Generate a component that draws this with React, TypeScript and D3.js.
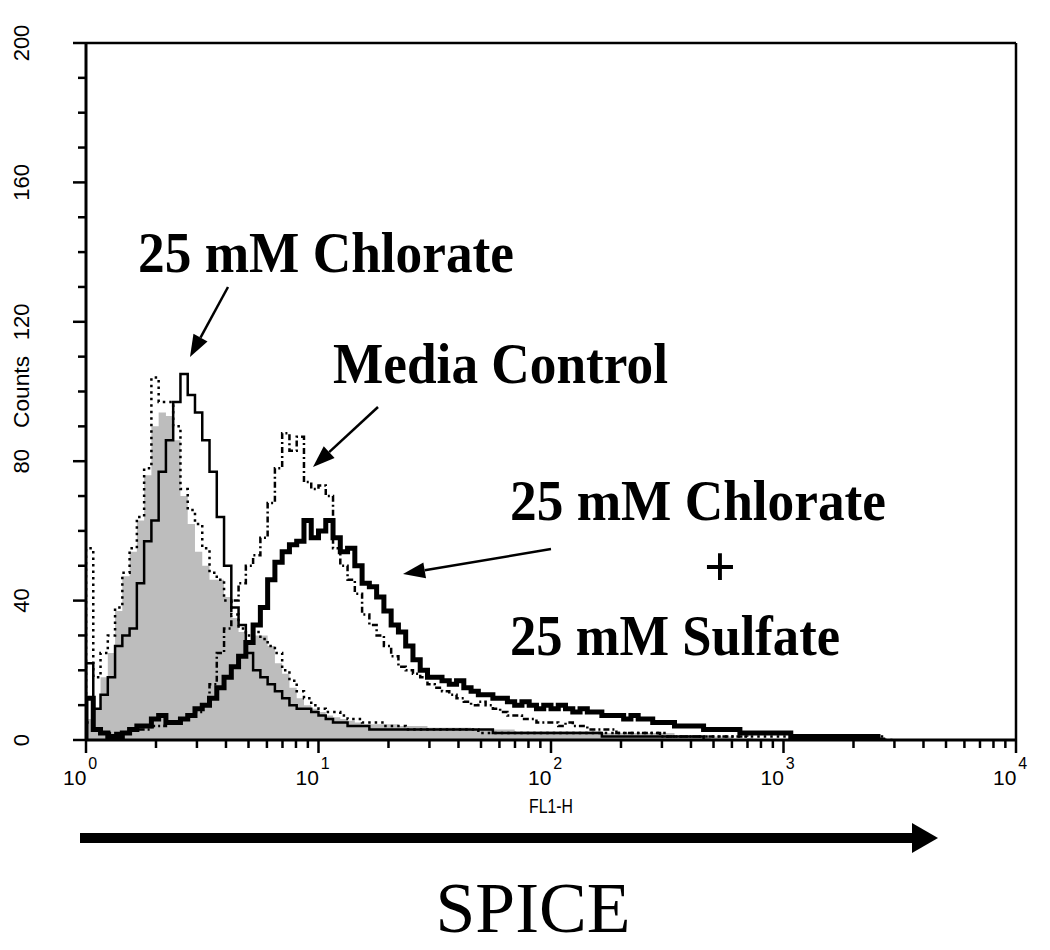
import React from "react";
import * as d3 from "d3";

// ---------- data (counts per histogram bin, 32 bins per decade, starting at 10^0) ----------
const BINS_PER_DECADE = 32;

const grayCounts = [6, 9, 18, 25, 37, 47, 54, 63, 76, 90, 94, 93, 86, 70, 62, 54, 50, 46, 46, 41, 35, 31, 28, 30, 30, 27, 22, 19, 15, 12, 10, 9, 8, 7, 6.5, 6, 5.5, 5, 4.5, 4.5, 4.5, 4.5, 4.5, 4, 4, 4, 4, 3.5, 3.5, 3.5, 3.5, 3.5, 3.5, 3, 3, 3, 3, 3, 3, 2.5, 2.5, 2.5, 2.5, 2.5, 2.5, 2.5, 2.5, 2.5, 2.5, 2.5, 2.5, 2, 2, 2, 2, 2, 2, 2, 2, 2, 2, 1, 1, 1, 1, 1, 1, 1, 1, 0];

const dottedCounts = [55, 18, 25, 30, 38, 48, 55, 64, 78, 104, 97, 97, 90, 72, 66, 62, 55, 48, 46, 40, 36, 32, 30, 31, 29, 27, 25, 20, 17, 14, 12, 10, 9, 8, 8, 7, 6, 6, 5, 5, 5, 4, 4, 4, 3, 3, 3, 3, 3, 3, 3, 3, 3, 3, 2, 2, 2, 2, 2, 2, 2, 2, 2, 2, 2, 2, 2, 2, 2, 2, 2, 2, 2, 2, 2, 2, 2, 2, 2, 2, 1, 1, 1, 1, 1, 1, 1, 1, 1, 1, 1, 1, 1, 1, 1, 1, 1, 1, 1, 1, 1, 1, 1, 1, 1, 1, 1, 1, 1, 1, 0];

const chlorateCounts = [22, 9, 13, 18, 27, 30, 32, 45, 57, 63, 77, 86, 97, 105, 99, 94, 86, 77, 64, 50, 38, 33, 25, 20, 18, 16, 14, 12, 10, 9, 9, 8, 7, 6, 5, 5, 4, 4, 4, 3, 3, 3, 3, 3, 3, 3, 3, 3, 3, 3, 3, 3, 3, 3, 3, 3, 2, 2, 2, 2, 2, 2, 2, 2, 2, 2, 2, 2, 2, 2, 2, 1, 1, 1, 1, 1, 1, 1, 1, 1, 1, 1, 1, 1, 1, 0];

const mediaCounts = [5, 3, 2, 2, 2, 2, 3, 3, 3, 4, 4, 5, 5, 6, 7, 8, 10, 16, 25, 32, 40, 45, 50, 53, 58, 68, 78, 88, 83, 87, 74, 72, 73, 70, 55, 50, 46, 42, 36, 33, 30, 27, 24, 21, 20, 19, 18, 16, 15, 14, 13, 12, 11, 10, 11, 10, 9, 8, 7, 7, 6, 6, 5, 5, 5, 4, 5, 4, 4, 3, 3, 3, 3, 2, 2, 2, 2, 2, 2, 1, 1, 1, 1, 1, 1, 1, 1, 1, 1, 1, 1, 0];

const sulfateCounts = [12, 3, 2, 1, 1, 2, 3, 4, 4, 6, 7, 5, 5, 6, 7, 9, 10, 12, 15, 18, 21, 24, 28, 33, 38, 46, 51, 54, 56, 57, 63, 58, 60, 63, 58, 54, 55, 50, 45, 44, 41, 37, 33, 31, 27, 23, 20, 18, 18, 17, 16, 17, 15, 14, 13, 13, 12, 12, 11, 10, 11, 10, 9, 10, 9, 10, 9, 8, 9, 8, 8, 7, 7, 7, 6, 7, 6, 6, 5, 5, 5, 4, 4, 4, 4, 3, 3, 3, 3, 3, 2, 2, 2, 2, 2, 2, 2, 1, 1, 1, 1, 1, 1, 1, 1, 1, 1, 1, 1, 0];

const yMajorTicks = [0, 40, 80, 120, 160, 200];
const yMinorTicks = [10, 20, 30, 50, 60, 70, 90, 100, 110, 130, 140, 150, 170, 180, 190];
const xDecades = [1, 10, 100, 1000, 10000];
const xExponents = ["0", "1", "2", "3", "4"];
const minorMultipliers = [2, 3, 4, 5, 6, 7, 8, 9];

// ---------- layout ----------
const W = 1050;
const H = 950;
const L = 86, R = 1016, T = 43, B = 740;

const x = d3.scaleLog().domain([1, 10000]).range([L, R]);
const y = d3.scaleLinear().domain([0, 200]).range([B, T]);

const edge = (i: number) => Math.pow(10, i / BINS_PER_DECADE);

function stepPoints(counts: number[]): [number, number][] {
  const pts: [number, number][] = [[edge(0), 0]];
  counts.forEach((c, i) => pts.push([edge(i), c]));
  pts.push([edge(counts.length), counts[counts.length - 1]]);
  return pts;
}

const line = d3
  .line<[number, number]>()
  .x((d) => x(d[0]))
  .y((d) => y(d[1]))
  .curve(d3.curveStepAfter);

const area = d3
  .area<[number, number]>()
  .x((d) => x(d[0]))
  .y0(y(0))
  .y1((d) => y(d[1]))
  .curve(d3.curveStepAfter);

const serif = "'Liberation Serif', 'Times New Roman', Times, serif";
const sans = "'Liberation Sans', Arial, Helvetica, sans-serif";

function Arrow({ x1, y1, x2, y2, head = 22, half = 8, sw = 2.5 }: any) {
  const ang = Math.atan2(y2 - y1, x2 - x1);
  const bx = x2 - head * Math.cos(ang);
  const by = y2 - head * Math.sin(ang);
  const px = -Math.sin(ang) * half;
  const py = Math.cos(ang) * half;
  return (
    <g>
      <line x1={x1} y1={y1} x2={bx} y2={by} stroke="#000" strokeWidth={sw} />
      <polygon points={`${x2},${y2} ${bx + px},${by + py} ${bx - px},${by - py}`} fill="#000" />
    </g>
  );
}

export default function App() {
  const minorX: number[] = [];
  xDecades.slice(0, -1).forEach((d) => minorMultipliers.forEach((m) => minorX.push(d * m)));

  return (
    <svg
      width={W}
      height={H}
      viewBox={`0 0 ${W} ${H}`}
      style={{ position: "absolute", left: 0, top: 0, background: "#fff" }}
    >
      <rect x={0} y={0} width={W} height={H} fill="#fff" />
      <defs>
        <clipPath id="plotClip">
          <rect x={L} y={T} width={R - L} height={B - T} />
        </clipPath>
      </defs>

      <g clipPath="url(#plotClip)">
        <path d={area(stepPoints(grayCounts)) || ""} fill="#bdbdbd" stroke="none" />
        <path
          d={line(stepPoints(dottedCounts)) || ""}
          fill="none"
          stroke="#000"
          strokeWidth={2.5}
          strokeDasharray="2.5 4"
        />
        <path d={line(stepPoints(chlorateCounts)) || ""} fill="none" stroke="#000" strokeWidth={2.5} />
        <path
          d={line(stepPoints(mediaCounts)) || ""}
          fill="none"
          stroke="#000"
          strokeWidth={2.5}
          strokeDasharray="6 3 2 3"
        />
        <path d={line(stepPoints(sulfateCounts)) || ""} fill="none" stroke="#000" strokeWidth={5} />
      </g>

      {/* frame */}
      <line x1={L} y1={T} x2={R} y2={T} stroke="#000" strokeWidth={2.5} />
      <line x1={R} y1={T} x2={R} y2={B} stroke="#000" strokeWidth={2.5} />
      <line x1={L} y1={B} x2={R} y2={B} stroke="#000" strokeWidth={3} />
      <line x1={L} y1={T} x2={L} y2={B} stroke="#000" strokeWidth={3} />

      {/* y ticks */}
      {yMajorTicks.map((t) => (
        <g key={"ym" + t}>
          <line x1={L - 13} y1={y(t)} x2={L} y2={y(t)} stroke="#000" strokeWidth={2.5} />
          <text
            transform={`translate(21,${y(t)}) rotate(-90)`}
            textAnchor="middle"
            dominantBaseline="central"
            fontFamily={sans}
            fontSize={22}
            fill="#000"
          >
            {t}
          </text>
        </g>
      ))}
      {yMinorTicks.map((t) => (
        <line key={"yn" + t} x1={L - 8} y1={y(t)} x2={L} y2={y(t)} stroke="#000" strokeWidth={2.5} />
      ))}
      <text
        transform={`translate(21,392) rotate(-90)`}
        textAnchor="middle"
        dominantBaseline="central"
        fontFamily={sans}
        fontSize={22}
        textLength={72}
        lengthAdjust="spacingAndGlyphs"
        fill="#000"
      >
        Counts
      </text>

      {/* x ticks */}
      {xDecades.map((d, i) => (
        <g key={"xm" + d}>
          <line x1={x(d)} y1={B} x2={x(d)} y2={B + 13} stroke="#000" strokeWidth={2.5} />
          <text x={x(d) - 23} y={785} fontFamily={sans} fontSize={21} fill="#000">
            <tspan>10</tspan>
            <tspan dx={2} dy={-16} fontSize={16}>
              {xExponents[i]}
            </tspan>
          </text>
        </g>
      ))}
      {minorX.map((v) => (
        <line key={"xn" + v} x1={x(v)} y1={B} x2={x(v)} y2={B + 8} stroke="#000" strokeWidth={2.5} />
      ))}
      <text
        x={551}
        y={813}
        textAnchor="middle"
        fontFamily={sans}
        fontSize={21}
        textLength={44}
        lengthAdjust="spacingAndGlyphs"
        fill="#000"
      >
        FL1-H
      </text>

      {/* annotations */}
      <text x={138} y={272} fontFamily={serif} fontWeight="bold" fontSize={56} textLength={376} lengthAdjust="spacingAndGlyphs">
        25 mM Chlorate
      </text>
      <Arrow x1={228} y1={287} x2={190} y2={357} />

      <text x={333} y={383} fontFamily={serif} fontWeight="bold" fontSize={56} textLength={335} lengthAdjust="spacingAndGlyphs">
        Media Control
      </text>
      <Arrow x1={378} y1={407} x2={313} y2={467} />

      <text x={510} y={520} fontFamily={serif} fontWeight="bold" fontSize={56} textLength={376} lengthAdjust="spacingAndGlyphs">
        25 mM Chlorate
      </text>
      <text x={720} y={586} textAnchor="middle" fontFamily={serif} fontWeight="bold" fontSize={56}>
        +
      </text>
      <text x={510} y={655} fontFamily={serif} fontWeight="bold" fontSize={56} textLength={330} lengthAdjust="spacingAndGlyphs">
        25 mM Sulfate
      </text>
      <Arrow x1={551} y1={549} x2={403} y2={574} />

      {/* big SPICE arrow */}
      <line x1={80} y1={838} x2={914} y2={838} stroke="#000" strokeWidth={10} />
      <polygon points="912,823 938,838 912,853" fill="#000" />
      <text x={533} y={932} textAnchor="middle" fontFamily={serif} fontSize={72} textLength={195} lengthAdjust="spacingAndGlyphs">
        SPICE
      </text>
    </svg>
  );
}
